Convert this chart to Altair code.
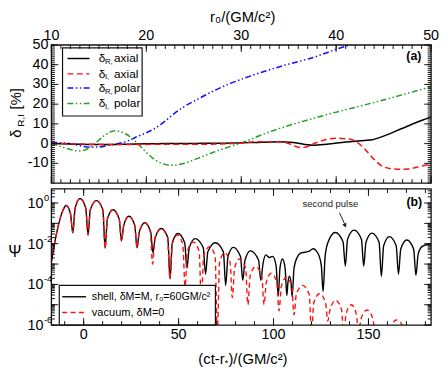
import altair as alt
import pandas as pd

FONT = "Liberation Sans"
W, H = 385, 284      # whole plot block (both panels)
TH = 140             # bottom edge of panel (a)
BY = 146             # top edge of panel (b)

# ---------------- panel (a): delta vs r0 ----------------
r0_dR_axial = [10, 12, 14, 16, 18, 20, 22, 25, 28, 31, 34, 35.5, 37.5, 39, 41, 43, 43.8, 45, 47, 48.5, 50]
dR_axial = [0.0, -0.2, -0.4, -0.5, -0.3, -0.1, 0.0, 0.1, 0.2, 0.5, 1.0, 0.6, -0.8, -0.3, 0.8, 1.6, 2.0, 3.8, 7.8, 10.8, 13.5]

r0_dI_axial = [10, 14, 18, 22, 26, 29, 32, 34.4, 35.4, 36.2, 37.1, 37.8, 38.9, 39.9, 41.3, 42, 43, 44, 45.1, 46.5, 47.5, 48.5, 49.6, 50]
dI_axial = [0.2, -0.3, -0.5, -0.3, -0.3, 0.0, 1.0, 0.8, -0.7, -2.0, -1.3, 0.3, 2.0, 2.7, 2.3, 1.3, -2.7, -8.0, -12.0, -13.0, -12.9, -12.0, -10.7, -10.3]

r0_dR_polar = [10, 11, 12.5, 14, 15, 16, 17, 18, 19, 20, 21, 22, 23, 24, 25.4, 27, 28.5, 31, 34.4, 37.8, 40, 41.8, 43]
dR_polar = [0.6, 0.5, -0.5, -1.8, -1.7, -0.9, 0.0, 1.3, 3.5, 5.5, 8.0, 11.5, 15.5, 18.8, 22.5, 26.5, 29.8, 34.3, 39.5, 44.0, 47.8, 50.5, 52.0]

r0_dI_polar = [10, 11, 12, 12.8, 13.5, 14.6, 15.5, 16.7, 17.8, 19.1, 20, 21, 22.6, 24, 25.4, 27, 28.5, 29.8, 33, 38.5, 44.1, 50]
dI_polar = [0.0, -1.5, -3.0, -3.7, -3.3, 0.0, 3.8, 6.5, 5.0, 0.0, -4.5, -8.5, -11.0, -10.0, -7.5, -4.5, -2.0, 0.0, 6.0, 14.0, 21.0, 28.8]

# ---------------- panel (b): log10 |Psi| vs (ct - r*) ----------------
early = [(-17.0, -2.9), (-14.9, -1.78), (-12.3, -0.73), (-11.0, -0.38), (-9.3, -0.12), (-7.0, -0.5), (-5.7, -1.46),
         (-4.5, -0.25), (-1.9, 0.22), (1.1, -0.25), (2.3, -1.57),
         (3.5, -0.33), (6.7, 0.12), (10.1, -0.33), (11.3, -2.22),
         (12.5, -0.78), (15.4, -0.33), (18.7, -0.78), (19.9, -1.86),
         (21.1, -1.1), (23.8, -0.65), (26.9, -1.1), (28.1, -2.2),
         (29.3, -1.42), (32.2, -0.97)]

shell_late = [(35.3, -1.42), (36.5, -2.45),
              (37.7, -1.7), (40.8, -1.25), (44.3, -1.7), (45.5, -3.72),
              (46.7, -1.95), (49.6, -1.5), (53.2, -1.95), (54.4, -3.2),
              (55.6, -2.2), (58.7, -1.75), (63.0, -2.2), (64.2, -3.5),
              (65.4, -2.4), (69.3, -1.95), (73.6, -2.4), (74.8, -4.05),
              (76.0, -2.63), (78.8, -2.18), (82.6, -2.63), (83.8, -3.8),
              (85.0, -2.8), (87.8, -2.35), (92.1, -2.8), (93.3, -3.8),
              (94.5, -2.95), (96.0, -2.55), (97.8, -2.68), (99.5, -2.62), (101.3, -3.05), (102.5, -4.55),
              (103.4, -3.2), (104.7, -2.75), (106.1, -3.2), (107.0, -4.55),
              (107.6, -3.9), (108.4, -3.6), (109.2, -3.9), (109.8, -4.6),
              (110.8, -3.2), (112.3, -2.7), (114.5, -2.45), (116.5, -2.42), (118.5, -2.38), (120.9, -2.25),
              (122.5, -2.35), (124.0, -2.6), (125.2, -3.1), (126.1, -4.35),
              (127.2, -2.6), (128.8, -1.9), (132.5, -1.45), (136.6, -1.9), (137.8, -3.1),
              (139.0, -1.78), (142.4, -1.33), (146.3, -1.78), (147.5, -3.1),
              (148.7, -1.93), (151.8, -1.48), (155.6, -1.93), (156.8, -3.6),
              (158.0, -2.1), (161.0, -1.65), (164.6, -2.1), (165.8, -3.5),
              (167.0, -2.27), (170.2, -1.82), (173.8, -2.27), (175.0, -3.55),
              (176.2, -2.5), (178.5, -2.12), (183.0, -2.0)]

vacuum_late = [(35.1, -1.42), (36.3, -3.0),
               (37.5, -1.72), (40.8, -1.27), (44.2, -1.72), (45.4, -3.72),
               (46.6, -2.03), (49.3, -1.58), (52.2, -2.03), (53.4, -4.1),
               (54.6, -2.37), (57.8, -1.92), (60.8, -2.37), (62.0, -4.85),
               (63.2, -2.6), (66.3, -2.15), (69.2, -2.6), (70.4, -6.4),
               (71.6, -2.9), (74.3, -2.45), (77.1, -2.9), (78.3, -4.65),
               (79.5, -3.2), (82.0, -2.75), (85.3, -3.2), (86.5, -5.0),
               (87.7, -3.58), (90.5, -3.13), (93.8, -3.58), (95.0, -5.0),
               (96.2, -3.9), (98.8, -3.45), (101.7, -3.9), (102.9, -5.3),
               (104.1, -4.1), (106.8, -3.65), (109.6, -4.1), (110.8, -5.5),
               (112.0, -4.5), (115.2, -4.05), (118.8, -4.5), (120.0, -6.5),
               (121.2, -4.9), (124.3, -4.45), (127.4, -4.9), (128.6, -5.8),
               (129.8, -5.23), (132.7, -4.78), (135.8, -5.23), (137.0, -6.5),
               (138.2, -5.45), (141.0, -5.0), (143.6, -5.45), (144.8, -6.5),
               (146.0, -5.71), (149.2, -5.26), (152.4, -5.71), (153.6, -6.6),
               (157.0, -6.3), (160.5, -6.6), (161.7, -6.1), (164.8, -5.75), (168.3, -6.1), (169.5, -6.8),
               (176.0, -6.6), (183.0, -6.9)]

# tick / label values
a_x_labels = [10, 20, 30, 40, 50]
a_y_labels = [-10, 0, 10, 20, 30, 40, 50]
b_x_labels = [0, 50, 100, 150]
b_y_labels = [1.0, 1e-2, 1e-4, 1e-6]
b_y_exp = ["0", "-2", "-4", "-6"]

# ---------------- scales ----------------
sx_a = alt.Scale(domain=[10, 50], range=[0, W], nice=False, zero=False)
sy_a = alt.Scale(domain=[-20, 50], range=[TH, 0], nice=False, zero=False)
sx_b = alt.Scale(domain=[-17, 183], range=[0, W], nice=False, zero=False)
sy_b = alt.Scale(type="log", domain=[1e-6, 4.9], range=[H, BY], nice=False)

ONE = pd.DataFrame({"a": [0]})
INK = "#111111"


def line(df, xf, yf, sx, sy, color, dash=None, width=1.5):
    kw = dict(color=color, strokeWidth=width, clip=True, interpolate="monotone")
    if dash:
        kw["strokeDash"] = dash
    return alt.Chart(df).mark_line(**kw).encode(
        x=alt.X(f"{xf}:Q", scale=sx, axis=None),
        y=alt.Y(f"{yf}:Q", scale=sy, axis=None))


def xticks(vals, sx, y0, y1):
    return alt.Chart(pd.DataFrame({"v": vals})).mark_rule(color=INK, strokeWidth=1).encode(
        x=alt.X("v:Q", scale=sx, axis=None), y=alt.value(y0), y2=alt.value(y1))


def yticks(vals, sy, x0, x1):
    return alt.Chart(pd.DataFrame({"v": vals})).mark_rule(color=INK, strokeWidth=1).encode(
        y=alt.Y("v:Q", scale=sy, axis=None), x=alt.value(x0), x2=alt.value(x1))


def txt(s, x, y, size, **kw):
    kw.setdefault("align", "left")
    kw.setdefault("baseline", "middle")
    kw.setdefault("color", "#000")
    return alt.Chart(pd.DataFrame({"t": [s]})).mark_text(fontSize=size, font=FONT, **kw).encode(
        x=alt.value(x), y=alt.value(y), text="t:N")


def hrule(x0, x1, y, color, dash=None, width=1.5):
    kw = dict(color=color, strokeWidth=width)
    if dash:
        kw["strokeDash"] = dash
    return alt.Chart(ONE).mark_rule(**kw).encode(x=alt.value(x0), x2=alt.value(x1), y=alt.value(y))


def box(x0, x1, y0, y1, fill="white", stroke=INK, width=1.2):
    return alt.Chart(ONE).mark_rect(fill=fill, stroke=stroke, strokeWidth=width).encode(
        x=alt.value(x0), x2=alt.value(x1), y=alt.value(y0), y2=alt.value(y1))


DASH_R = [6, 3.5]
DASH_DDOT = [6, 2.5, 1.5, 2.5, 1.5, 2.5]
BLUE = "#1010ff"
GREEN = "#22a022"
RED = "#ff1010"
LAB = 14.5

# ---------------- panel (a) layers ----------------
da = lambda xs, ys: pd.DataFrame({"r0": xs, "d": ys})
a_layers = [
    line(da(r0_dR_polar, dR_polar), "r0", "d", sx_a, sy_a, BLUE, DASH_DDOT, 1.5),
    line(da(r0_dI_polar, dI_polar), "r0", "d", sx_a, sy_a, GREEN, DASH_DDOT, 1.5),
    line(da(r0_dR_axial, dR_axial), "r0", "d", sx_a, sy_a, "#000", None, 1.5),
    line(da(r0_dI_axial, dI_axial), "r0", "d", sx_a, sy_a, RED, DASH_R, 1.5),
]
# legend (a)
a_layers.append(box(11.3, 92, 3, 72))
rows = [13.7, 29.3, 43.7, 59.3]
styles = [("#000", None), (RED, DASH_R), (BLUE, DASH_DDOT), (GREEN, DASH_DDOT)]
subs = ["R,", "I,", "R,", "I,"]
words = ["axial", "axial", "polar", "polar"]
for yy, (c, d), sb, w in zip(rows, styles, subs, words):
    a_layers.append(hrule(16.3, 38.7, yy, c, d, 1.5))
    a_layers.append(txt("δ", 48, yy, 12))
    a_layers.append(txt(sb, 54.3, yy + 3.5, 7.8))
    a_layers.append(txt(w, 63.5, yy, 12))
a_layers.append(txt("(a)", 367.5, 11, 12.5, align="center", fontWeight="bold"))

# ticks (a)
a_x_minor = list(range(10, 51))
a_y_minor = list(range(-20, 51))
a_layers += [
    xticks(a_x_minor, sx_a, 0, 4), xticks(a_x_labels, sx_a, 0, 7),
    xticks(a_x_minor, sx_a, TH, TH - 4), xticks(a_x_labels, sx_a, TH, TH - 7),
    yticks(a_y_minor, sy_a, 0, 3.5), yticks(a_y_labels, sy_a, 0, 7),
    yticks(a_y_minor, sy_a, W, W - 3.5), yticks(a_y_labels, sy_a, W, W - 7),
]
# tick labels (a)
a_layers.append(alt.Chart(pd.DataFrame({"v": a_x_labels, "t": [str(v) for v in a_x_labels]})).mark_text(
    fontSize=LAB, font=FONT, baseline="middle", align="center", color="#000").encode(
    x=alt.X("v:Q", scale=sx_a, axis=None), y=alt.value(-9.5), text="t:N"))
a_layers.append(alt.Chart(pd.DataFrame({"v": a_y_labels, "t": [str(v) for v in a_y_labels]})).mark_text(
    fontSize=LAB, font=FONT, baseline="middle", align="right", color="#000").encode(
    y=alt.Y("v:Q", scale=sy_a, axis=None), x=alt.value(-3), text="t:N"))
# axis titles (a)
a_layers.append(txt("r₀/(GM/c²)", 194, -28, 15, align="center"))
a_layers.append(txt("δ", -35.5, 90, 15, align="center", angle=270))
a_layers.append(txt("R,I", -31, 76.5, 10, align="center", angle=270))
a_layers.append(txt("[%]", -35.5, 54.5, 15, align="center", angle=270))
a_layers.append(box(0, W, 0, TH, fill="transparent", stroke=INK, width=1.3))

# ---------------- panel (b) layers ----------------
def db(pairs):
    d = pd.DataFrame(pairs, columns=["t", "lg"])
    d["psi"] = 10.0 ** d["lg"]
    return d

b_layers = [
    line(db(early + shell_late), "t", "psi", sx_b, sy_b, "#000", None, 1.4),
    line(db(early + vacuum_late), "t", "psi", sx_b, sy_b, RED, [5, 3.5], 1.4),
]
# legend (b)
b_layers.append(box(8, 166.3, 243.7, H))
b_layers.append(hrule(11, 35, 255.3, "#000", None, 1.4))
b_layers.append(hrule(11, 35, 271.3, RED, [5, 3.5], 1.4))
b_layers.append(txt("shell, δM=M, r₀=60GM/c²", 41, 255.3, 10.8))
b_layers.append(txt("vacuum, δM=0", 41, 271.3, 11.2))
b_layers.append(txt("(b)", 368, 159.5, 12.5, align="center", fontWeight="bold"))

# annotation
ann = pd.DataFrame({"t": [129.9], "p": [10 ** -0.05], "s": ["second pulse"]})
b_layers.append(alt.Chart(ann).mark_text(fontSize=9.6, font=FONT, color="#222", baseline="middle").encode(
    x=alt.X("t:Q", scale=sx_b, axis=None), y=alt.Y("p:Q", scale=sy_b, axis=None), text="s:N"))
arr = pd.DataFrame({"t1": [134.7], "t2": [137.4], "p1": [10 ** -0.47], "p2": [10 ** -1.02]})
b_layers.append(alt.Chart(arr).mark_rule(color="#222", strokeWidth=1).encode(
    x=alt.X("t1:Q", scale=sx_b, axis=None), x2="t2", y=alt.Y("p1:Q", scale=sy_b, axis=None), y2="p2"))
head = pd.DataFrame({"t": [137.6], "p": [10 ** -1.08]})
b_layers.append(alt.Chart(head).mark_point(shape="triangle", angle=156, size=22, filled=True, color="#222", opacity=1).encode(
    x=alt.X("t:Q", scale=sx_b, axis=None), y=alt.Y("p:Q", scale=sy_b, axis=None)))

# ticks (b)
b_x_minor = list(range(-10, 181, 10))
b_y_minor = [k * 10.0 ** e for e in range(-6, 1) for k in range(1, 10) if k * 10.0 ** e <= 4.9]
b_y_major = [10.0 ** e for e in range(-6, 1)]
b_layers += [
    xticks(b_x_minor, sx_b, BY, BY + 4), xticks(b_x_labels, sx_b, BY, BY + 7),
    xticks(b_x_minor, sx_b, H, H - 4), xticks(b_x_labels, sx_b, H, H - 7),
    yticks(b_y_minor, sy_b, 0, 3.5), yticks(b_y_major, sy_b, 0, 7),
    yticks(b_y_minor, sy_b, W, W - 3.5), yticks(b_y_major, sy_b, W, W - 7),
]
# tick labels (b)
b_layers.append(alt.Chart(pd.DataFrame({"v": b_x_labels, "t": [str(v) for v in b_x_labels]})).mark_text(
    fontSize=LAB, font=FONT, baseline="middle", align="center", color="#000").encode(
    x=alt.X("v:Q", scale=sx_b, axis=None), y=alt.value(H + 10.5), text="t:N"))
ylab = pd.DataFrame({"v": b_y_labels, "e": b_y_exp, "ten": ["10"] * len(b_y_labels)})
b_layers.append(alt.Chart(ylab).mark_text(fontSize=LAB, font=FONT, baseline="middle", align="right", color="#000", dy=1).encode(
    y=alt.Y("v:Q", scale=sy_b, axis=None), x=alt.value(-8), text="ten:N"))
b_layers.append(alt.Chart(ylab).mark_text(fontSize=9.5, font=FONT, baseline="middle", align="left", color="#000", dy=-5).encode(
    y=alt.Y("v:Q", scale=sy_b, axis=None), x=alt.value(-7.5), text="e:N"))
# axis titles (b): "(ct-r" + subscript "*" + ")/(GM/c²)"
b_layers.append(txt("(ct-r", 149, 318, 15, align="left"))
b_layers.append(txt("*", 175.8, 322, 9, align="left"))
b_layers.append(txt(")/(GM/c²)", 179.5, 318, 15, align="left"))
b_layers.append(txt("Ψ", -37, 210, 16, align="center"))
b_layers.append(box(0, W, BY, H, fill="transparent", stroke=INK, width=1.3))

top = alt.layer(*a_layers)
bot = alt.layer(*b_layers)

chart = alt.layer(top, bot).resolve_scale(x="independent", y="independent").properties(
    width=W, height=H,
    autosize=alt.AutoSizeParams(type="none"),
    padding={"left": 44, "top": 35, "right": 8, "bottom": 40},
).configure_view(stroke=None)

chart.save("out.html", embed_options={"renderer": "svg", "actions": False})
